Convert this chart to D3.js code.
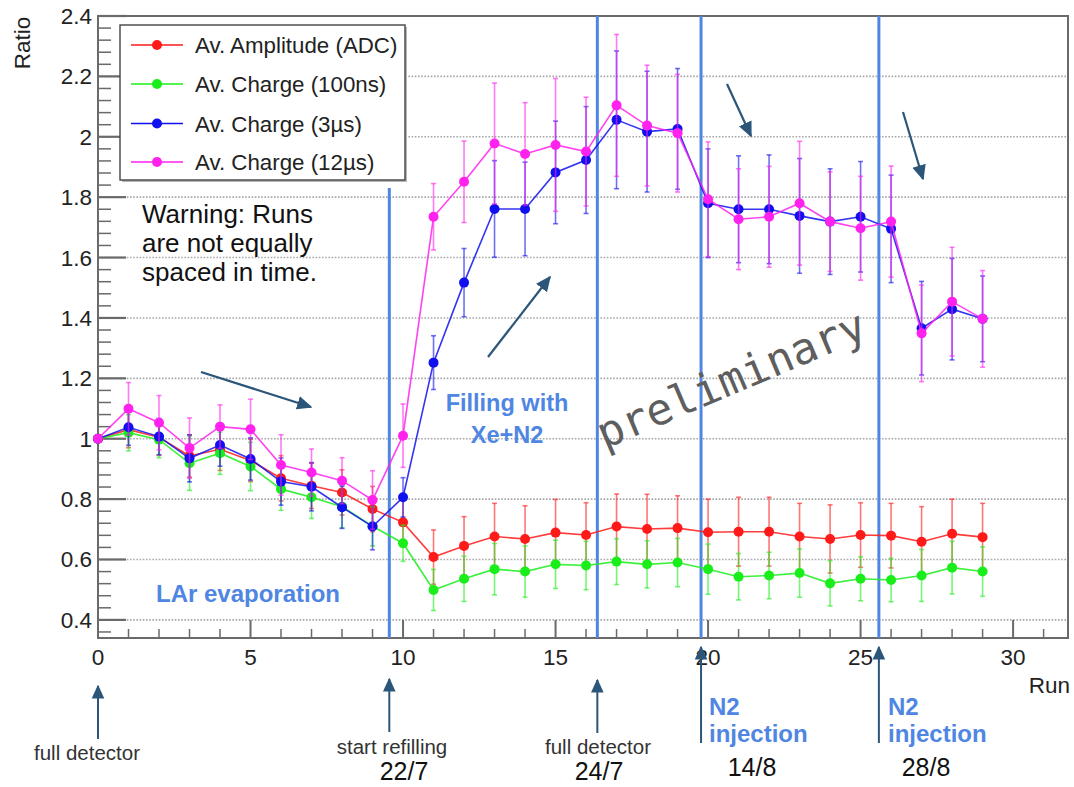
<!DOCTYPE html>
<html>
<head>
<meta charset="utf-8">
<script src="https://cdn.jsdelivr.net/npm/d3@7"></script>
<style>
  html, body { margin: 0; padding: 0; background: #fff; }
  svg { display: block; font-family: "Liberation Sans", Arial, sans-serif; }
</style>
</head>
<body>
<svg id="chart" width="1074" height="787"></svg>
<script>
// Run numbers
const runs = d3.range(0, 30);

// Av. Amplitude (ADC)
const ampValues = [1.0, 1.03, 1.005, 0.943, 0.965, 0.928, 0.869, 0.844, 0.822, 0.767,
  0.723, 0.608, 0.645, 0.676, 0.668, 0.689, 0.681, 0.709, 0.701, 0.704,
  0.69, 0.692, 0.692, 0.676, 0.668, 0.681, 0.679, 0.659, 0.685, 0.674];
const ampErrors = [0, 0.06, 0.06, 0.07, 0.07, 0.07, 0.075, 0.075, 0.075, 0.075,
  0.08, 0.09, 0.097, 0.11, 0.11, 0.11, 0.107, 0.108, 0.115, 0.107,
  0.11, 0.114, 0.114, 0.11, 0.113, 0.107, 0.107, 0.116, 0.115, 0.112];

// Av. Charge (100ns)
const q100Values = [1.0, 1.02, 0.997, 0.919, 0.952, 0.908, 0.833, 0.806, 0.775, 0.71,
  0.654, 0.499, 0.536, 0.568, 0.56, 0.584, 0.58, 0.593, 0.584, 0.59,
  0.568, 0.543, 0.547, 0.555, 0.521, 0.536, 0.532, 0.547, 0.573, 0.56];
const q100Errors = [0, 0.06, 0.06, 0.09, 0.07, 0.08, 0.07, 0.07, 0.07, 0.065,
  0.06, 0.068, 0.075, 0.085, 0.085, 0.08, 0.08, 0.076, 0.078, 0.08,
  0.083, 0.077, 0.077, 0.08, 0.075, 0.073, 0.072, 0.086, 0.087, 0.082];

// Av. Charge (3µs)
const q3Values = [1.0, 1.038, 1.007, 0.935, 0.979, 0.933, 0.858, 0.841, 0.773, 0.709,
  0.806, 1.252, 1.517, 1.761, 1.761, 1.882, 1.923, 2.056, 2.017, 2.026,
  1.78, 1.76, 1.76, 1.738, 1.719, 1.735, 1.695, 1.366, 1.429, 1.397];
const q3Errors = [0, 0.06, 0.06, 0.078, 0.07, 0.07, 0.078, 0.08, 0.07, 0.077,
  0.065, 0.089, 0.113, 0.16, 0.155, 0.17, 0.177, 0.228, 0.2, 0.2,
  0.18, 0.177, 0.18, 0.19, 0.175, 0.183, 0.178, 0.155, 0.168, 0.142];

// Av. Charge (12µs)
const q12Values = [1.0, 1.099, 1.053, 0.969, 1.04, 1.031, 0.913, 0.888, 0.861, 0.797,
  1.01, 1.735, 1.851, 1.978, 1.943, 1.973, 1.951, 2.104, 2.037, 2.012,
  1.793, 1.727, 1.735, 1.78, 1.719, 1.697, 1.719, 1.349, 1.454, 1.397];
const q12Errors = [0, 0.087, 0.09, 0.1, 0.072, 0.1, 0.1, 0.078, 0.076, 0.097,
  0.105, 0.11, 0.135, 0.2, 0.17, 0.22, 0.18, 0.235, 0.2, 0.195,
  0.19, 0.167, 0.167, 0.205, 0.165, 0.172, 0.184, 0.16, 0.18, 0.16];

const seriesNames = ["Av. Amplitude (ADC)", "Av. Charge (100ns)", "Av. Charge (3\u00b5s)", "Av. Charge (12\u00b5s)"];
const seriesColors = ["#ff1a1a", "#1aee1a", "#1010ee", "#ff22ee"];

// Axis ticks
const yMajorTicks = [0.4, 0.6, 0.8, 1.0, 1.2, 1.4, 1.6, 1.8, 2.0, 2.2, 2.4];
const yTickLabels = ["0.4", "0.6", "0.8", "1", "1.2", "1.4", "1.6", "1.8", "2", "2.2", "2.4"];
const xMajorTicks = [0, 5, 10, 15, 20, 25, 30];
const xTickLabels = ["0", "5", "10", "15", "20", "25", "30"];

// Run positions of the detector events (vertical markers) and their top values
const eventRuns = [9.55, 16.37, 19.77, 25.6];
const eventTops = [1.83, 2.4, 2.4, 2.4];

const svg = d3.select("#chart");
const x = d3.scaleLinear().domain([0, 31.8]).range([98, 1068]);
const y = d3.scaleLinear().domain([0.34, 2.4]).range([638, 16]);

const axisGray = "#6a6a6a";
const annoBlue = "#4f86e3";
const arrowBlue = "#2c5679";

// arrowhead marker
const defs = svg.append("defs");
defs.append("marker")
  .attr("id", "head").attr("viewBox", "0 0 10 10")
  .attr("refX", 9).attr("refY", 5)
  .attr("markerWidth", 7).attr("markerHeight", 7)
  .attr("markerUnits", "strokeWidth")
  .attr("orient", "auto")
  .append("path").attr("d", "M0,0.5 L10,5 L0,9.5 Z").attr("fill", arrowBlue);

// dotted horizontal grid
svg.append("g").selectAll("line").data(yMajorTicks.slice(0, -1)).join("line")
  .attr("x1", x(0)).attr("x2", x(31.8))
  .attr("y1", d => y(d)).attr("y2", d => y(d))
  .attr("stroke", "#a8a8a8").attr("stroke-width", 1.6)
  .attr("stroke-dasharray", "1.6,1.6");

// y axis ticks (inside frame)
const yMinor = d3.range(0.36, 2.4, 0.04).filter(v => Math.abs(Math.round(v * 5) - v * 5) > 0.01);
svg.append("g").selectAll("line").data(yMinor).join("line")
  .attr("x1", x(0)).attr("x2", x(0) + 13)
  .attr("y1", d => y(d)).attr("y2", d => y(d))
  .attr("stroke", axisGray).attr("stroke-width", 1.5);
svg.append("g").selectAll("line").data(yMajorTicks).join("line")
  .attr("x1", x(0)).attr("x2", x(0) + 28)
  .attr("y1", d => y(d)).attr("y2", d => y(d))
  .attr("stroke", axisGray).attr("stroke-width", 2.2);

// x axis ticks (inside frame)
const xMinor = d3.range(0, 32).filter(v => v % 5 !== 0);
svg.append("g").selectAll("line").data(xMinor).join("line")
  .attr("x1", d => x(d)).attr("x2", d => x(d))
  .attr("y1", y(0.34)).attr("y2", y(0.34) - 9)
  .attr("stroke", axisGray).attr("stroke-width", 1.5);
svg.append("g").selectAll("line").data(xMajorTicks).join("line")
  .attr("x1", d => x(d)).attr("x2", d => x(d))
  .attr("y1", y(0.34)).attr("y2", y(0.34) - 18)
  .attr("stroke", axisGray).attr("stroke-width", 2);

// frame
svg.append("rect")
  .attr("x", x(0)).attr("y", y(2.4))
  .attr("width", x(31.8) - x(0)).attr("height", y(0.34) - y(2.4))
  .attr("fill", "none").attr("stroke", axisGray).attr("stroke-width", 2);

// tick labels
svg.append("g").selectAll("text").data(yMajorTicks).join("text")
  .attr("x", 92).attr("y", d => y(d) + 8)
  .attr("text-anchor", "end").attr("font-size", 22.5).attr("fill", "#222")
  .text((d, i) => yTickLabels[i]);
svg.append("g").selectAll("text").data(xMajorTicks).join("text")
  .attr("x", d => x(d)).attr("y", 665)
  .attr("text-anchor", "middle").attr("font-size", 22.5).attr("fill", "#222")
  .text((d, i) => xTickLabels[i]);

// axis titles
svg.append("text").attr("transform", "translate(30,43) rotate(-90)")
  .attr("text-anchor", "middle").attr("font-size", 22.5).attr("fill", "#222").text("Ratio");
svg.append("text").attr("x", 1070).attr("y", 693)
  .attr("text-anchor", "end").attr("font-size", 22.5).attr("fill", "#222").text("Run");

// vertical event markers
svg.append("g").selectAll("line").data(eventRuns).join("line")
  .attr("x1", d => x(d)).attr("x2", d => x(d))
  .attr("y1", (d, i) => y(eventTops[i])).attr("y2", y(0.34))
  .attr("stroke", annoBlue).attr("stroke-width", 3);

// watermark
svg.append("text")
  .attr("transform", "translate(737,393) rotate(-23)")
  .attr("text-anchor", "middle")
  .attr("font-family", "'DejaVu Sans Mono', monospace")
  .attr("font-size", 43.5).attr("fill", "#5e5e5e")
  .text("preliminary");

// data series
const seriesData = [
  [ampValues, ampErrors], [q100Values, q100Errors], [q3Values, q3Errors], [q12Values, q12Errors]
];
const line = d3.line().x(d => x(d.run)).y(d => y(d.v));
seriesData.forEach(([vals, errs], s) => {
  const pts = runs.map((r, i) => ({ run: r, v: vals[i], e: errs[i] }));
  const g = svg.append("g");
  const col = seriesColors[s];
  // error bars
  const eb = g.append("g").attr("stroke", col).attr("stroke-opacity", 0.6).attr("stroke-width", 1.6);
  eb.selectAll("line.bar").data(pts.filter(p => p.e > 0)).join("line").attr("class", "bar")
    .attr("x1", d => x(d.run)).attr("x2", d => x(d.run))
    .attr("y1", d => y(d.v - d.e)).attr("y2", d => y(d.v + d.e));
  eb.selectAll("line.capT").data(pts.filter(p => p.e > 0)).join("line").attr("class", "capT")
    .attr("x1", d => x(d.run) - 2.5).attr("x2", d => x(d.run) + 2.5)
    .attr("y1", d => y(d.v + d.e)).attr("y2", d => y(d.v + d.e));
  eb.selectAll("line.capB").data(pts.filter(p => p.e > 0)).join("line").attr("class", "capB")
    .attr("x1", d => x(d.run) - 2.5).attr("x2", d => x(d.run) + 2.5)
    .attr("y1", d => y(d.v - d.e)).attr("y2", d => y(d.v - d.e));
  // connecting line
  g.append("path").datum(pts).attr("d", line)
    .attr("fill", "none").attr("stroke", col).attr("stroke-width", 1.6).attr("stroke-opacity", 0.85);
  // markers
  g.selectAll("circle").data(pts).join("circle")
    .attr("cx", d => x(d.run)).attr("cy", d => y(d.v)).attr("r", 5)
    .attr("fill", col);
});

// legend
const lg = svg.append("g");
lg.append("rect").attr("x", 122).attr("y", 27).attr("width", 285).attr("height", 155)
  .attr("fill", "#b8b8b8");
lg.append("rect").attr("x", 120).attr("y", 25).attr("width", 285).attr("height", 155)
  .attr("fill", "#fff").attr("stroke", "#444").attr("stroke-width", 1.4);
const legendY = [45, 84, 123.5, 162];
seriesNames.forEach((name, i) => {
  lg.append("line").attr("x1", 131).attr("x2", 183).attr("y1", legendY[i]).attr("y2", legendY[i])
    .attr("stroke", seriesColors[i]).attr("stroke-width", 1.6);
  lg.append("circle").attr("cx", 157).attr("cy", legendY[i]).attr("r", 5).attr("fill", seriesColors[i]);
  lg.append("text").attr("x", 195).attr("y", legendY[i] + 8)
    .attr("font-size", 22.3).attr("fill", "#222").text(name);
});

// notes inside the plot
const warn = svg.append("text").attr("font-size", 26).attr("fill", "#111");
["Warning: Runs", "are not equally", "spaced in time."].forEach((t, i) => {
  warn.append("tspan").attr("x", 142).attr("y", 223 + i * 29.2).text(t);
});
svg.append("text").attr("x", 248).attr("y", 602).attr("text-anchor", "middle")
  .attr("font-size", 24).attr("font-weight", "bold").attr("fill", annoBlue).text("LAr evaporation");
svg.append("text").attr("x", 507).attr("y", 411).attr("text-anchor", "middle")
  .attr("font-size", 23.5).attr("font-weight", "bold").attr("fill", annoBlue).text("Filling with");
svg.append("text").attr("x", 507).attr("y", 443).attr("text-anchor", "middle")
  .attr("font-size", 23.5).attr("font-weight", "bold").attr("fill", annoBlue).text("Xe+N2");

// trend arrows
const trendArrows = [
  [201, 372, 311, 407], [488, 357, 550, 277], [727, 84, 751, 136], [903, 112, 923, 179]
];
svg.append("g").selectAll("line").data(trendArrows).join("line")
  .attr("x1", d => d[0]).attr("y1", d => d[1]).attr("x2", d => d[2]).attr("y2", d => d[3])
  .attr("stroke", arrowBlue).attr("stroke-width", 2.2).attr("marker-end", "url(#head)");

// event arrows below the axis
const eventArrowRuns = [0, 9.55, 16.37, 19.77, 25.6];
const eventArrowEnds = [[739, 686], [732, 679], [733, 680], [743, 647], [743, 647]];
svg.append("g").selectAll("line").data(eventArrowRuns).join("line")
  .attr("x1", d => x(d)).attr("x2", d => x(d))
  .attr("y1", (d, i) => eventArrowEnds[i][0]).attr("y2", (d, i) => eventArrowEnds[i][1])
  .attr("stroke", arrowBlue).attr("stroke-width", 2).attr("marker-end", "url(#head)");

// event captions
const small = [["full detector", 87, 760], ["start refilling", 392, 754], ["full detector", 598, 754]];
small.forEach(([t, cx, cy]) => {
  svg.append("text").attr("x", cx).attr("y", cy).attr("text-anchor", "middle")
    .attr("font-size", 20.5).attr("fill", "#333").text(t);
});
const dates = [["22/7", 404, 780], ["24/7", 599, 780], ["14/8", 752, 776], ["28/8", 926, 776]];
dates.forEach(([t, cx, cy]) => {
  svg.append("text").attr("x", cx).attr("y", cy).attr("text-anchor", "middle")
    .attr("font-size", 25).attr("fill", "#111").text(t);
});
[709, 888].forEach(lx => {
  svg.append("text").attr("x", lx).attr("y", 715).attr("font-size", 24)
    .attr("font-weight", "bold").attr("fill", annoBlue).text("N2");
  svg.append("text").attr("x", lx).attr("y", 742).attr("font-size", 24)
    .attr("font-weight", "bold").attr("fill", annoBlue).text("injection");
});
</script>
</body>
</html>
